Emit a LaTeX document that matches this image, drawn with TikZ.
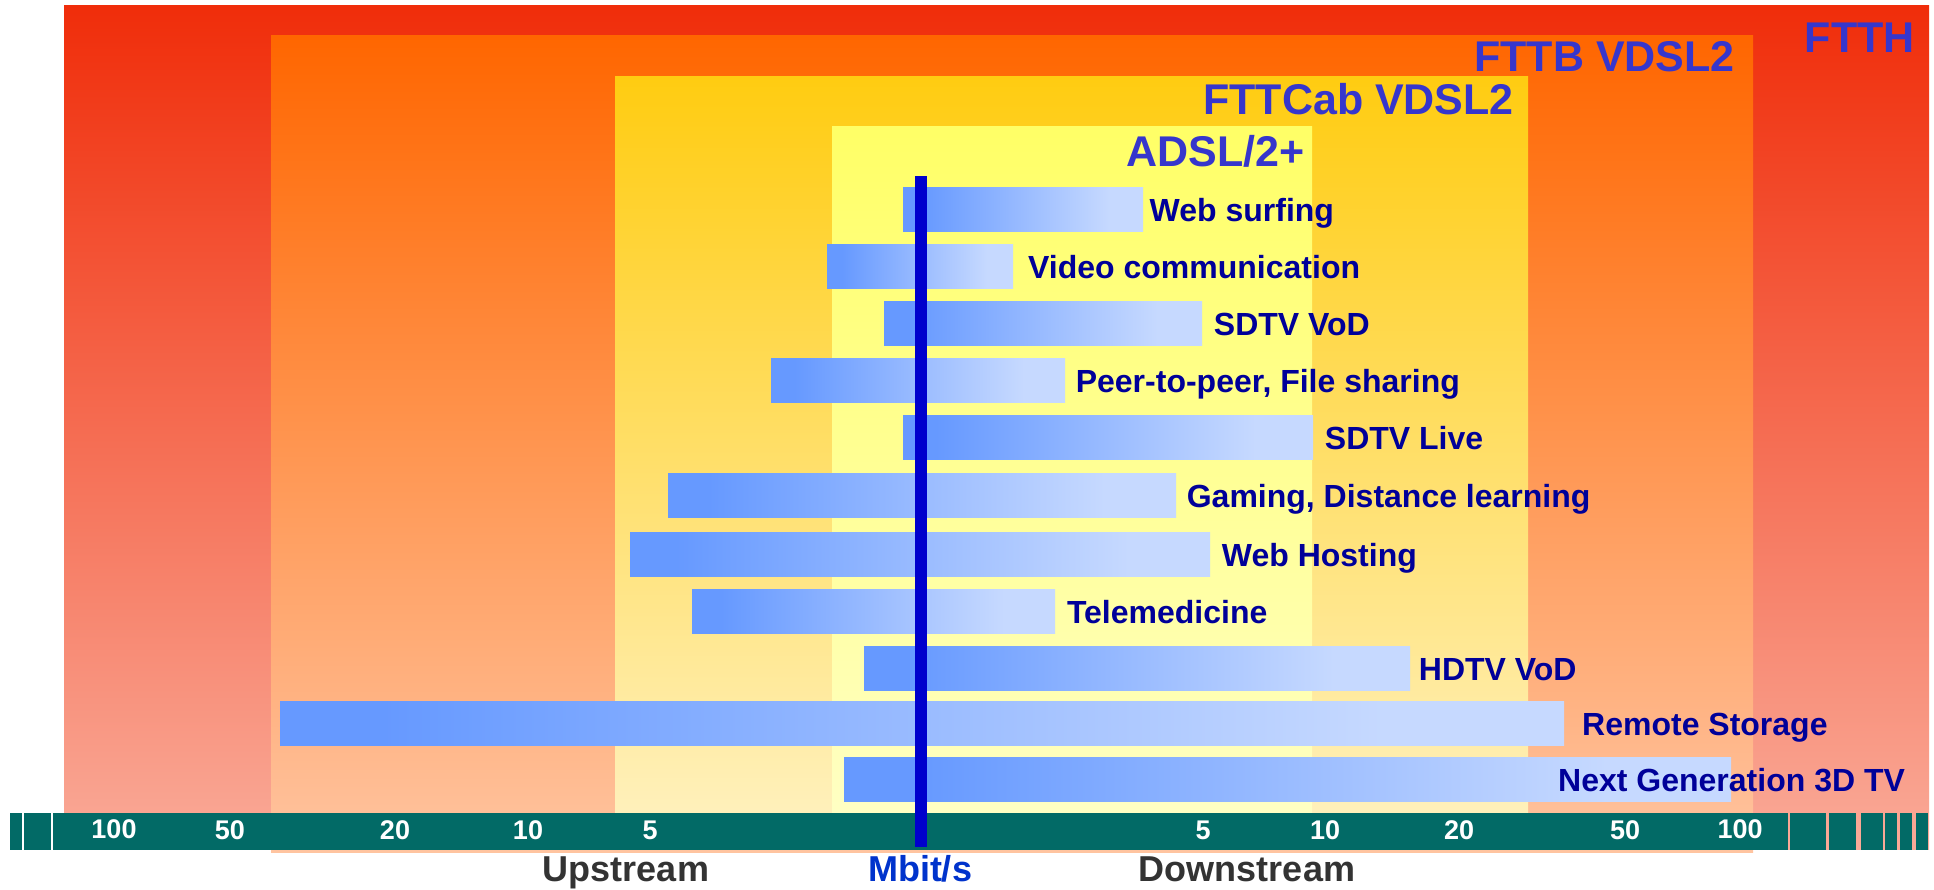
\documentclass[tikz,border=0pt]{standalone}
\usepackage{fontspec}
\setmainfont{Liberation Sans}

% palette
\definecolor{barL}{RGB}{102,153,255}
\definecolor{barR}{RGB}{198,217,255}
\definecolor{ftthTop}{RGB}{240,45,10}
\definecolor{ftthBot}{RGB}{250,170,152}
\definecolor{fttbTop}{RGB}{255,102,0}
\definecolor{fttbBot}{RGB}{255,196,160}
\definecolor{cabTop}{RGB}{255,204,17}
\definecolor{cabBot}{RGB}{255,242,195}
\definecolor{adslTop}{RGB}{255,255,102}
\definecolor{adslBot}{RGB}{255,255,200}
\definecolor{appnavy}{RGB}{0,0,153}
\definecolor{techblue}{RGB}{54,54,204}
\definecolor{axisteal}{RGB}{2,106,102}
\definecolor{axisline}{RGB}{0,0,204}
\definecolor{unitblue}{RGB}{0,51,204}
\definecolor{streamgray}{RGB}{51,51,51}

% bar fill: solid blue on the left, fading to pale blue on the right
\pgfdeclarehorizontalshading{barfade}{100bp}{color(0bp)=(barL); color(25bp)=(barL); color(29bp)=(barL); color(68bp)=(barR); color(75bp)=(barR); color(100bp)=(barR)}

\begin{document}
\begin{tikzpicture}[x=1pt,y=-1pt,
  barbox/.style={shade, shading=barfade, draw=none, inner sep=0pt, outer sep=0pt,
                 minimum height=44pt, anchor=north west},
  applabel/.style={font=\fontsize{32}{32}\selectfont\bfseries, text=appnavy,
                   inner sep=0pt, anchor=base west},
  techlabel/.style={font=\fontsize{43}{43}\selectfont\bfseries, text=techblue,
                    inner sep=0pt, anchor=base east},
  ticklabel/.style={font=\fontsize{27}{27}\selectfont\bfseries, text=white,
                    inner sep=0pt, anchor=base},
  axislabel/.style={font=\fontsize{36}{36}\selectfont\bfseries, inner sep=0pt, anchor=base},
  axisseg/.style={fill=axisteal, draw=none},
  midline/.style={draw=axisline, line width=12pt},
]
\useasboundingbox (0,0) rectangle (1934,889);
\fill[white] (0,0) rectangle (1934,889);

% nested access-technology bands
\shade[top color=ftthTop, bottom color=ftthBot] (64,5) rectangle (1929,849);
\shade[top color=fttbTop, bottom color=fttbBot] (271,35) rectangle (1753,852);
\shade[top color=cabTop, bottom color=cabBot] (615,76) rectangle (1528,849);
\shade[top color=adslTop, bottom color=adslBot] (832,126) rectangle (1312,849);

\node[techlabel] (ftth) at (1915,52) {FTTH};
\node[techlabel] (fttb) at (1735,71) {FTTB VDSL2};
\node[techlabel] (fttcab) at (1514,114) {FTTCab VDSL2};
\node[techlabel] (adsl) at (1305,166) {ADSL/2+};

% application bars
\node[barbox, minimum width=240pt]  (b1)  at (903,187) {};
\node[barbox, minimum width=186pt]  (b2)  at (827,244) {};
\node[barbox, minimum width=318pt]  (b3)  at (884,301) {};
\node[barbox, minimum width=294pt]  (b4)  at (771,358) {};
\node[barbox, minimum width=410pt]  (b5)  at (903,415) {};
\node[barbox, minimum width=508pt]  (b6)  at (668,473) {};
\node[barbox, minimum width=580pt]  (b7)  at (630,532) {};
\node[barbox, minimum width=363pt]  (b8)  at (692,589) {};
\node[barbox, minimum width=546pt]  (b9)  at (864,646) {};
\node[barbox, minimum width=1284pt] (b10) at (280,701) {};
\node[barbox, minimum width=887pt]  (b11) at (844,757) {};

\node[applabel] (l1)  at ([xshift=6.5pt,yshift=-12pt]b1.east)  {Web surfing};
\node[applabel] (l2)  at ([xshift=15pt,yshift=-12pt]b2.east)   {Video communication};
\node[applabel] (l3)  at ([xshift=11.7pt,yshift=-12pt]b3.east) {SDTV VoD};
\node[applabel] (l4)  at ([xshift=10.6pt,yshift=-12pt]b4.east) {Peer-to-peer, File sharing};
\node[applabel] (l5)  at ([xshift=11.7pt,yshift=-12pt]b5.east) {SDTV Live};
\node[applabel] (l6)  at ([xshift=10.6pt,yshift=-12pt]b6.east) {Gaming, Distance learning};
\node[applabel] (l7)  at ([xshift=11.7pt,yshift=-12pt]b7.east) {Web Hosting};
\node[applabel] (l8)  at ([xshift=11.8pt,yshift=-12pt]b8.east) {Telemedicine};
\node[applabel] (l9)  at ([xshift=8.7pt,yshift=-12pt]b9.east)  {HDTV VoD};
\node[applabel] (l10) at ([xshift=18pt,yshift=-12pt]b10.east)  {Remote Storage};
\node[applabel] (l11) at ([xshift=-173pt,yshift=-12pt]b11.east) {Next Generation 3D TV};

% rate scale bar
\fill[axisseg] (10,813) rectangle (22,850);
\fill[axisseg] (24,813) rectangle (51,850);
\fill[axisseg] (53,813) rectangle (1788,850);
\fill[axisseg] (1790,813) rectangle (1826,850);
\fill[axisseg] (1829,813) rectangle (1856,850);
\fill[axisseg] (1861,813) rectangle (1883,850);
\fill[axisseg] (1885,813) rectangle (1897,850);
\fill[axisseg] (1900,813) rectangle (1912,850);
\fill[axisseg] (1916,813) rectangle (1928,850);

\node[ticklabel] (u100) at (114,838) {100};
\node[ticklabel] (u50)  at (230,839) {50};
\node[ticklabel] (u20)  at (395,839) {20};
\node[ticklabel] (u10)  at (528,839) {10};
\node[ticklabel] (u5)   at (650,839) {5};
\node[ticklabel] (d5)   at (1203,839) {5};
\node[ticklabel] (d10)  at (1325,839) {10};
\node[ticklabel] (d20)  at (1459,839) {20};
\node[ticklabel] (d50)  at (1625,839) {50};
\node[ticklabel] (d100) at (1740,838) {100};

% zero line between upstream and downstream
\coordinate (zerotop) at (921,176);
\coordinate (zerobot) at (921,847);
\draw[midline] (zerotop) -- (zerobot);

\node[axislabel, text=streamgray] (up)   at (626,881)  {Upstream};
\node[axislabel, text=unitblue]   (unit) at (920,881)  {Mbit/s};
\node[axislabel, text=streamgray] (down) at (1247,881) {Downstream};
\end{tikzpicture}
\end{document}
